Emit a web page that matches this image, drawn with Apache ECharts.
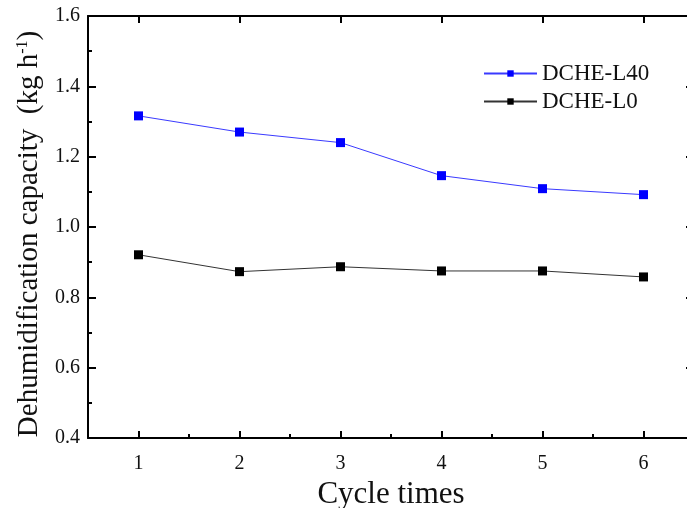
<!DOCTYPE html>
<html>
<head>
<meta charset="utf-8">
<script src="https://cdn.jsdelivr.net/npm/echarts@6/dist/echarts.min.js"></script>
<style>
html,body{margin:0;padding:0;background:#fff;}
#chart{width:687px;height:508px;}
</style>
</head>
<body>
<div id="chart"></div>
<script>
// 循环次数
var cycles = [1, 2, 3, 4, 5, 6];
var halfTicks = [1.5, 2.5, 3.5, 4.5, 5.5];
// 除湿量 (kg/h)
var dcheL40 = [1.316, 1.270, 1.240, 1.146, 1.109, 1.092];
var dcheL0 = [0.921, 0.873, 0.887, 0.875, 0.875, 0.858];

var font = '"Liberation Serif", "Times New Roman", serif';

function pairs(vals) {
    var out = [];
    for (var i = 0; i < cycles.length; i++) {
        out.push([cycles[i], vals[i]]);
    }
    return out;
}

var chart = echarts.init(document.getElementById('chart'));

var xBase = {
    type: 'value',
    min: 0.5,
    max: 6.5,
    splitLine: {show: false}
};

chart.setOption({
    animation: false,
    backgroundColor: '#fff',
    grid: {left: 88, width: 606, top: 16, bottom: 70, containLabel: false, outerBoundsMode: 'none'},
    legend: {
        orient: 'vertical',
        left: 478,
        top: 57,
        itemWidth: 53,
        itemHeight: 8,
        itemGap: 5,
        textStyle: {fontFamily: font, fontSize: 23, color: '#111'},
        data: ['DCHE-L40', 'DCHE-L0']
    },
    xAxis: [
        Object.assign({}, xBase, {
            position: 'bottom',
            name: 'Cycle times',
            nameLocation: 'middle',
            nameGap: 37,
            nameTextStyle: {fontFamily: font, fontSize: 31, color: '#111'},
            axisLine: {show: true, lineStyle: {color: '#000', width: 2}},
            axisTick: {inside: true, length: 7, lineStyle: {color: '#000', width: 2}, customValues: cycles},
            axisLabel: {fontFamily: font, fontSize: 20, color: '#111', margin: 16, customValues: cycles}
        }),
        Object.assign({}, xBase, {
            position: 'bottom',
            axisLine: {show: false},
            axisTick: {inside: true, length: 4, lineStyle: {color: '#000', width: 2}, customValues: halfTicks},
            axisLabel: {show: false}
        }),
        Object.assign({}, xBase, {
            position: 'top',
            axisLine: {show: true, lineStyle: {color: '#000', width: 2}},
            axisTick: {inside: true, length: 7, lineStyle: {color: '#000', width: 2}, customValues: cycles},
            axisLabel: {show: false}
        })
    ],
    yAxis: [
        {
            type: 'value',
            min: 0.4,
            max: 1.6,
            interval: 0.2,
            position: 'left',
            name: '{n|Dehumidification capacity  (kg h}{s|-1}{n|)}',
            nameLocation: 'middle',
            nameGap: 36,
            nameTextStyle: {
                padding: [0, 14, 0, 0],
                rich: {
                    n: {fontFamily: font, fontSize: 29, color: '#111'},
                    s: {fontFamily: font, fontSize: 16, color: '#111', verticalAlign: 'top', padding: [0, 0, 14, 0]}
                }
            },
            splitLine: {show: false},
            axisLine: {show: true, lineStyle: {color: '#000', width: 2}},
            axisTick: {inside: true, length: 8, lineStyle: {color: '#000', width: 2}},
            minorTick: {show: true, splitNumber: 2, length: 4, lineStyle: {color: '#000', width: 2}},
            axisLabel: {
                fontFamily: font, fontSize: 20, color: '#111', margin: 8,
                formatter: function (v) { return v.toFixed(1); }
            }
        },
        {
            type: 'value',
            min: 0.4,
            max: 1.6,
            interval: 0.2,
            position: 'right',
            splitLine: {show: false},
            axisLine: {show: true, lineStyle: {color: '#000', width: 2}},
            axisTick: {inside: true, length: 8, lineStyle: {color: '#000', width: 2}},
            axisLabel: {show: false}
        }
    ],
    series: [
        {
            name: 'DCHE-L40',
            type: 'line',
            data: pairs(dcheL40),
            symbol: 'rect',
            symbolSize: 9,
            lineStyle: {color: '#3a3aff', width: 1},
            itemStyle: {color: '#0000ff'}
        },
        {
            name: 'DCHE-L0',
            type: 'line',
            data: pairs(dcheL0),
            symbol: 'rect',
            symbolSize: 9,
            lineStyle: {color: '#333', width: 1},
            itemStyle: {color: '#000'}
        }
    ]
});
</script>
</body>
</html>
